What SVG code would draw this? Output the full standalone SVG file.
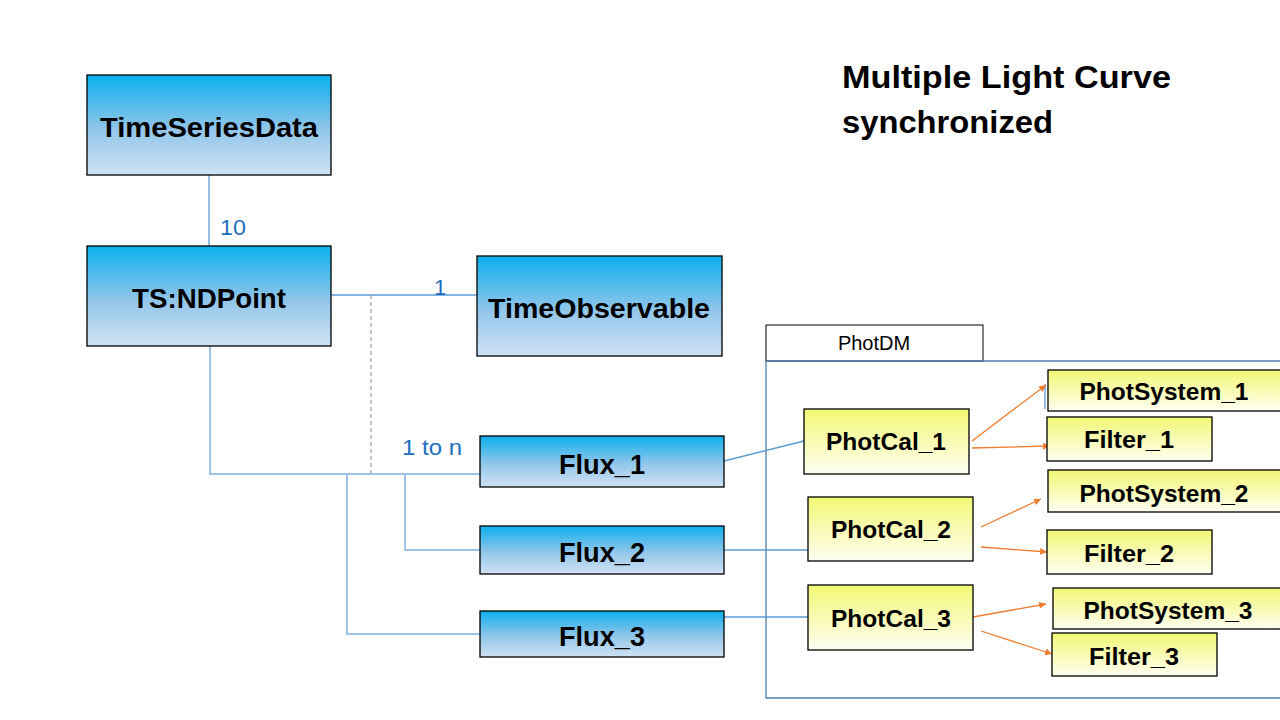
<svg xmlns="http://www.w3.org/2000/svg" width="1280" height="720" viewBox="0 0 1280 720">
<defs>
<linearGradient id="gb" x1="0" y1="0" x2="0" y2="1">
<stop offset="0" stop-color="#0bb0ee"/>
<stop offset="0.55" stop-color="#93c6ea"/>
<stop offset="1" stop-color="#d0e2f4"/>
</linearGradient>
<linearGradient id="gy" x1="0" y1="0" x2="0" y2="1">
<stop offset="0" stop-color="#f2f774"/>
<stop offset="1" stop-color="#fefff2"/>
</linearGradient>
<marker id="ar" viewBox="0 0 10 10" refX="10" refY="5" markerWidth="7" markerHeight="7" orient="auto" markerUnits="userSpaceOnUse">
<path d="M0,0 L10,5 L0,10 z" fill="#ed7d31"/>
</marker>
</defs>
<style>
.bb{fill:url(#gb);stroke:#000;stroke-width:1.3}
.yb{fill:url(#gy);stroke:#000;stroke-width:1.3}
.t{font-family:"Liberation Sans",Arial,sans-serif;font-weight:bold;fill:#000;text-anchor:middle}
.lbl{font-family:"Liberation Sans",Arial,sans-serif;fill:#1f6fbf;font-size:22px}
.c{stroke:#5b9bd5;stroke-width:1.3;fill:none}
.c2{stroke:#9dc3e6;stroke-width:2;fill:none}
.o{stroke:#ed7d31;stroke-width:1.3;fill:none;marker-end:url(#ar)}
</style>
<rect width="1280" height="720" fill="#fff"/>
<g id="title">
<text x="842" y="88" font-family="Liberation Sans,Arial,sans-serif" font-weight="bold" font-size="32" fill="#000" textLength="329" lengthAdjust="spacingAndGlyphs">Multiple Light Curve</text>
<text x="842" y="133" font-family="Liberation Sans,Arial,sans-serif" font-weight="bold" font-size="32" fill="#000" textLength="211" lengthAdjust="spacingAndGlyphs">synchronized</text>
</g>
<g id="photdm">
<rect x="766" y="325" width="217" height="36" fill="#fff" stroke="#000" stroke-width="1"/>
<text x="874" y="350" font-family="Liberation Sans,Arial,sans-serif" font-size="20" text-anchor="middle" fill="#000">PhotDM</text>
<path d="M1280,361 H766 V698 H1280" fill="none" stroke="#4f7fb2" stroke-width="1.3"/>
</g>
<g id="connectors">
<line class="c" x1="209" y1="175" x2="209" y2="246"/>
<line class="c" x1="331" y1="295" x2="477" y2="295"/>
<line x1="371" y1="295" x2="371" y2="474" stroke="#8a8a8a" stroke-width="1" stroke-dasharray="4,3"/>
<path class="c2" d="M210,346 V474 H480"/>
<path class="c2" d="M405,474 V550 H480"/>
<path class="c2" d="M347,474 V634 H480"/>
<line class="c" x1="724" y1="461" x2="804" y2="441"/>
<line class="c" x1="724" y1="550" x2="808" y2="550"/>
<line class="c" x1="610" y1="617" x2="808" y2="617"/>
<line class="c" x1="1045" y1="384" x2="1045" y2="409"/>
<line class="o" x1="972" y1="441" x2="1046" y2="385"/>
<line class="o" x1="972" y1="448" x2="1050" y2="446"/>
<line class="o" x1="981" y1="527" x2="1041" y2="499"/>
<line class="o" x1="981" y1="547" x2="1047" y2="552"/>
<line class="o" x1="973" y1="617" x2="1046" y2="604"/>
<line class="o" x1="981" y1="631" x2="1052" y2="654"/>
<text class="lbl" x="220" y="235" textLength="26" lengthAdjust="spacingAndGlyphs">10</text>
<text class="lbl" x="434" y="295">1</text>
<text class="lbl" x="402" y="455" textLength="60" lengthAdjust="spacingAndGlyphs">1 to n</text>
</g>
<g id="TimeSeriesData"><rect class="bb" x="87" y="75" width="244" height="100"/><text class="t" x="209" y="137" font-size="28" textLength="218" lengthAdjust="spacingAndGlyphs">TimeSeriesData</text></g>
<g id="TSNDPoint"><rect class="bb" x="87" y="246" width="244" height="100"/><text class="t" x="209" y="308" font-size="28" textLength="154" lengthAdjust="spacingAndGlyphs">TS:NDPoint</text></g>
<g id="TimeObservable"><rect class="bb" x="477" y="256" width="245" height="100"/><text class="t" x="599" y="318" font-size="28" textLength="222" lengthAdjust="spacingAndGlyphs">TimeObservable</text></g>
<g id="Flux_1"><rect class="bb" x="480" y="436" width="244" height="51"/><text class="t" x="602" y="474" font-size="28" textLength="86" lengthAdjust="spacingAndGlyphs">Flux_1</text></g>
<g id="Flux_2"><rect class="bb" x="480" y="526" width="244" height="48"/><text class="t" x="602" y="562" font-size="28" textLength="86" lengthAdjust="spacingAndGlyphs">Flux_2</text></g>
<g id="Flux_3"><rect class="bb" x="480" y="611" width="244" height="46"/><text class="t" x="602" y="646" font-size="28" textLength="86" lengthAdjust="spacingAndGlyphs">Flux_3</text></g>
<g id="PhotCal_1"><rect class="yb" x="804" y="409" width="165" height="65"/><text class="t" x="886" y="450" font-size="24" textLength="120" lengthAdjust="spacingAndGlyphs">PhotCal_1</text></g>
<g id="PhotCal_2"><rect class="yb" x="808" y="497" width="165" height="64"/><text class="t" x="891" y="538" font-size="24" textLength="120" lengthAdjust="spacingAndGlyphs">PhotCal_2</text></g>
<g id="PhotCal_3"><rect class="yb" x="808" y="585" width="165" height="65"/><text class="t" x="891" y="627" font-size="24" textLength="120" lengthAdjust="spacingAndGlyphs">PhotCal_3</text></g>
<g id="PhotSystem_1"><rect class="yb" x="1048" y="370" width="240" height="41"/><text class="t" x="1164" y="400" font-size="24" textLength="169" lengthAdjust="spacingAndGlyphs">PhotSystem_1</text></g>
<g id="Filter_1"><rect class="yb" x="1047" y="417" width="165" height="44"/><text class="t" x="1129" y="448" font-size="24" textLength="90" lengthAdjust="spacingAndGlyphs">Filter_1</text></g>
<g id="PhotSystem_2"><rect class="yb" x="1048" y="470" width="240" height="42"/><text class="t" x="1164" y="502" font-size="24" textLength="169" lengthAdjust="spacingAndGlyphs">PhotSystem_2</text></g>
<g id="Filter_2"><rect class="yb" x="1047" y="530" width="165" height="44"/><text class="t" x="1129" y="562" font-size="24" textLength="90" lengthAdjust="spacingAndGlyphs">Filter_2</text></g>
<g id="PhotSystem_3"><rect class="yb" x="1053" y="588" width="235" height="41"/><text class="t" x="1168" y="619" font-size="24" textLength="169" lengthAdjust="spacingAndGlyphs">PhotSystem_3</text></g>
<g id="Filter_3"><rect class="yb" x="1052" y="633" width="165" height="43"/><text class="t" x="1134" y="665" font-size="24" textLength="90" lengthAdjust="spacingAndGlyphs">Filter_3</text></g>
</svg>
